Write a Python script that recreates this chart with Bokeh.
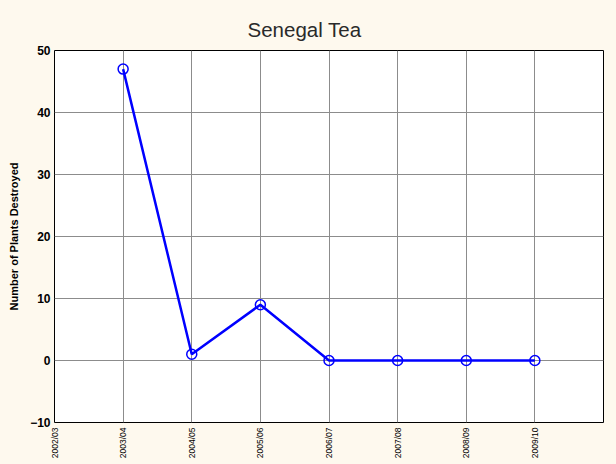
import math
from bokeh.plotting import figure
from bokeh.models import FixedTicker, ColumnDataSource, GlobalInlineStyleSheet
from bokeh.embed import file_html
from bokeh.resources import INLINE

seasons = ["2002/03", "2003/04", "2004/05", "2005/06", "2006/07", "2007/08", "2008/09", "2009/10"]
plot_seasons = ["2003/04", "2004/05", "2005/06", "2006/07", "2007/08", "2008/09", "2009/10"]
plants_destroyed = [47, 1, 9, 0, 0, 0, 0]
y_ticks = [-10, 0, 10, 20, 30, 40, 50]

BG = "#FEF9EE"

xpos = [seasons.index(s) for s in plot_seasons]
src = ColumnDataSource(dict(x=xpos, y=plants_destroyed))

p = figure(width=616, height=464, output_backend="svg", toolbar_location=None,
           x_range=(0, len(seasons)), y_range=(y_ticks[0], y_ticks[-1]),
           min_border_left=54, min_border_right=13, min_border_top=50, min_border_bottom=42,
           background_fill_color="white", border_fill_color=BG)
p.stylesheets = [GlobalInlineStyleSheet(css="body { background-color: %s; }" % BG)]

p.title.text = "Senegal Tea"
p.title.align = "left"
p.title.text_font = "Liberation Sans"
p.title.text_font_style = "normal"
p.title.text_font_size = "20.5px"
p.title.text_color = "#2a2a2a"
p.title.offset = 193
p.title.standoff = 20

p.outline_line_color = "black"
p.outline_line_width = 1

p.line("x", "y", source=src, line_color="#0000FF", line_width=2.5)
p.scatter("x", "y", source=src, marker="circle", size=10, fill_alpha=0,
          line_color="#0000FF", line_width=1.5)

p.xaxis.ticker = FixedTicker(ticks=list(range(len(seasons) + 1)))
p.xaxis.major_label_overrides = {i: s for i, s in enumerate(seasons)}
p.xaxis.major_label_overrides[len(seasons)] = ""
p.xaxis.major_label_orientation = math.pi / 2
p.xaxis.major_label_text_font = "Liberation Sans"
p.xaxis.major_label_text_font_size = "8.5px"
p.xaxis.major_label_text_color = "black"
p.xaxis.major_label_standoff = 5
p.xaxis.major_tick_out = 0
p.xaxis.major_tick_in = 0
p.xaxis.minor_tick_out = 0
p.xaxis.minor_tick_in = 0
p.xaxis.axis_line_color = None

p.yaxis.ticker = FixedTicker(ticks=y_ticks)
p.yaxis.major_label_text_font = "Liberation Sans"
p.yaxis.major_label_text_font_style = "bold"
p.yaxis.major_label_text_font_size = "12px"
p.yaxis.major_label_text_color = "black"
p.yaxis.major_label_standoff = 4
p.yaxis.major_tick_out = 0
p.yaxis.major_tick_in = 0
p.yaxis.minor_tick_out = 0
p.yaxis.minor_tick_in = 0
p.yaxis.axis_line_color = None
p.yaxis.axis_label = "Number of Plants Destroyed"
p.yaxis.axis_label_text_font = "Liberation Sans"
p.yaxis.axis_label_text_font_style = "bold"
p.yaxis.axis_label_text_font_size = "11px"
p.yaxis.axis_label_text_color = "black"
p.yaxis.axis_label_standoff = 7

p.xgrid.ticker = FixedTicker(ticks=list(range(1, len(seasons))))
p.ygrid.ticker = FixedTicker(ticks=y_ticks[1:-1])
p.grid.grid_line_color = "#8C8C8C"
p.grid.grid_line_width = 1
p.grid.grid_line_alpha = 1

open("out.html", "w").write(file_html(p, INLINE))
